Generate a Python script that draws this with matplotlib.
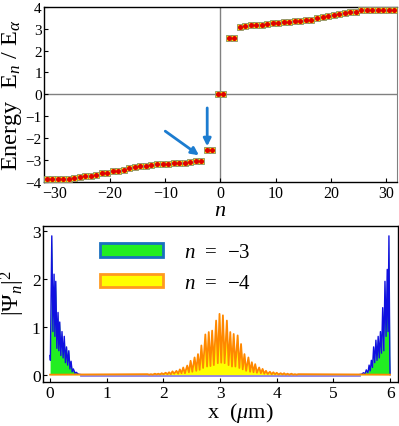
import numpy as np
import matplotlib
matplotlib.use('Agg')
import matplotlib.pyplot as plt

plt.rcParams['font.family'] = ['Liberation Serif', 'DejaVu Serif']
plt.rcParams['mathtext.fontset'] = 'custom'
plt.rcParams['mathtext.rm'] = 'Liberation Serif'
plt.rcParams['mathtext.it'] = 'Liberation Serif:italic'

# ---- data: energy spectrum (E_n / E_alpha) ----
n_index = np.arange(-31.5, 32.0, 1.0)
energy = [-3.84, -3.84, -3.84, -3.84, -3.84, -3.83, -3.78, -3.74, -3.72, -3.67,
          -3.61, -3.58, -3.52, -3.49, -3.44, -3.36, -3.33, -3.29, -3.27, -3.23,
          -3.20, -3.19, -3.17, -3.14, -3.12, -3.11, -3.09, -3.05, -3.04,
          -2.55, -2.55, 0.0, 0.0, 2.55, 2.55,
          3.07, 3.10, 3.16, 3.16, 3.17, 3.19, 3.25, 3.25, 3.29, 3.30,
          3.35, 3.35, 3.39, 3.41, 3.50, 3.53, 3.56, 3.61, 3.65, 3.72,
          3.76, 3.78, 3.84, 3.84, 3.84, 3.84, 3.84, 3.84, 3.87]

# ---- data: |psi|^2 for n = -3 (edge state) ----
x_m3 = [0.00, 0.005, 0.03, 0.05, 0.07, 0.085, 0.10, 0.12, 0.14, 0.155, 0.17, 0.19,
        0.21, 0.23, 0.25, 0.27, 0.29, 0.31, 0.33, 0.35, 0.37, 0.39, 0.41, 0.44,
        0.46, 0.50, 0.55,
        5.45, 5.50, 5.53, 5.56, 5.58, 5.61, 5.63, 5.65, 5.67, 5.69, 5.71, 5.73,
        5.75, 5.77, 5.79, 5.81, 5.83, 5.85, 5.87, 5.89, 5.91, 5.93, 5.95, 5.965,
        5.98, 5.995, 6.00]
psi_m3 = [0.40, 0.30, 2.90, 0.90, 2.10, 0.80, 1.95, 0.55, 1.30, 0.50, 1.10, 0.40,
          0.90, 0.35, 0.80, 0.25, 0.58, 0.20, 0.50, 0.12, 0.28, 0.06, 0.12, 0.03,
          0.05, 0.01, 0.00,
          0.00, 0.01, 0.04, 0.02, 0.10, 0.04, 0.20, 0.08, 0.30, 0.15, 0.58, 0.25,
          0.72, 0.30, 0.80, 0.35, 0.90, 0.45, 1.40, 0.50, 1.95, 0.80, 2.20, 0.90,
          2.90, 0.40, 0.00]

# ---- data: |psi|^2 for n = -4 (bulk state), peaks and troughs ----
peak_x = [1.72, 1.78, 1.85, 1.91, 1.97, 2.04, 2.10, 2.16, 2.23, 2.29, 2.35, 2.42,
          2.48, 2.55, 2.61, 2.67, 2.74, 2.80, 2.86, 2.93, 2.99, 3.05, 3.12, 3.18,
          3.24, 3.31, 3.37, 3.43, 3.50, 3.56, 3.62, 3.69, 3.75, 3.81, 3.88, 3.94,
          4.00, 4.07, 4.13, 4.19, 4.26, 4.32, 4.38]
peak_y = [0.01, 0.01, 0.02, 0.02, 0.03, 0.04, 0.05, 0.07, 0.08, 0.11, 0.15, 0.19,
          0.29, 0.36, 0.43, 0.61, 0.84, 0.89, 0.92, 1.13, 1.27, 1.24, 1.13, 0.89,
          0.85, 0.82, 0.64, 0.43, 0.36, 0.26, 0.22, 0.15, 0.12, 0.08, 0.06, 0.05,
          0.04, 0.03, 0.03, 0.02, 0.02, 0.01, 0.01]
trough_x = [1.75, 1.81, 1.88, 1.94, 2.00, 2.07, 2.13, 2.19, 2.26, 2.32, 2.38, 2.45,
            2.51, 2.58, 2.64, 2.70, 2.77, 2.83, 2.89, 2.96, 3.02, 3.08, 3.15, 3.21,
            3.27, 3.34, 3.40, 3.46, 3.53, 3.59, 3.65, 3.72, 3.78, 3.84, 3.91, 3.97,
            4.03, 4.10, 4.16, 4.22, 4.29, 4.35]
trough_y = [0.0, 0.0, 0.005, 0.005, 0.01, 0.01, 0.01, 0.02, 0.02, 0.03, 0.03, 0.05,
            0.06, 0.08, 0.10, 0.14, 0.17, 0.18, 0.20, 0.24, 0.25, 0.24, 0.20, 0.17,
            0.17, 0.14, 0.11, 0.08, 0.06, 0.05, 0.04, 0.03, 0.02, 0.015, 0.01, 0.01,
            0.005, 0.005, 0.0, 0.0, 0.0, 0.0]

x_m4 = [0.0]
psi_m4 = [0.0]
for i in range(len(peak_x)):
    x_m4.append(peak_x[i])
    psi_m4.append(peak_y[i])
    if i < len(trough_x):
        x_m4.append(trough_x[i])
        psi_m4.append(trough_y[i])
x_m4.append(6.0)
psi_m4.append(0.0)

fig = plt.figure(figsize=(3.99, 4.27), dpi=100)

# ---------------- top panel ----------------
ax1 = fig.add_axes([0.110, 0.5714, 0.885, 0.4106])
ax1.axhline(0, color='#808080', lw=1.0, zorder=1)
ax1.axvline(0, color='#808080', lw=1.0, zorder=1)
ax1.plot(n_index, energy, ls='none', marker='s', ms=5.0, mfc='#ffff00',
         mec='#8a8a6a', mew=0.6, zorder=3)
ax1.plot(n_index, energy, ls='none', marker='o', ms=2.6, mfc='#e00000',
         mec='#e00000', zorder=4)

arrow_col = '#1c7cd0'
ax1.annotate('', xy=(-3.9, -2.78), xytext=(-10.0, -1.68),
             arrowprops=dict(arrowstyle='-|>', color=arrow_col, lw=2.0,
                             mutation_scale=11, shrinkA=0, shrinkB=0))
ax1.annotate('', xy=(-2.4, -2.37), xytext=(-2.4, -0.62),
             arrowprops=dict(arrowstyle='-|>', color=arrow_col, lw=2.0,
                             mutation_scale=11, shrinkA=0, shrinkB=0))

ax1.set_xlim(-32, 32)
ax1.set_ylim(-4, 4)
ax1.set_xticks([-30, -20, -10, 0, 10, 20, 30])
ax1.set_yticks([-4, -3, -2, -1, 0, 1, 2, 3, 4])
ax1.tick_params(direction='in', labelsize=11.5, length=3, width=0.8, pad=2)
ax1.tick_params(axis='y', labelsize=11, pad=1.5)
for s in ['top', 'left', 'bottom']:
    ax1.spines[s].set_color('black')
    ax1.spines[s].set_linewidth(1.0)
ax1.spines['right'].set_color('#808080')
ax1.set_ylabel(r'Energy  E$_n$ / E$_\alpha$', fontsize=17.5)
ax1.yaxis.set_label_coords(-0.056, 0.5)
ax1.set_xlabel(r'$n$', fontsize=16, labelpad=0)

# ---------------- bottom panel ----------------
ax2 = fig.add_axes([0.1085, 0.1023, 0.889, 0.3654])
ax2.fill_between(x_m3, psi_m3, 0, color='#22ee22', lw=0, zorder=2)
ax2.plot(x_m3, psi_m3, color='#1010e0', lw=1.0, zorder=3)
ax2.plot([0.55, 5.45], [0, 0], color='#8c7ce8', lw=2.0, zorder=3)
ax2.fill_between(x_m4, psi_m4, 0, color='#ffff00', lw=0, zorder=4)
ax2.plot(x_m4, psi_m4, color='#ff8800', lw=1.3, zorder=5)

ax2.fill_between([], [], color='#22ee22', ec='#1a70c0', lw=2, label=r'$n$  =  $-$3')
ax2.fill_between([], [], color='#ffff00', ec='#ff9a20', lw=2, label=r'$n$  =  $-$4')
ax2.legend(loc='upper left', bbox_to_anchor=(0.16, 0.89), frameon=False,
           fontsize=15, handlelength=3.0, handleheight=0.6, handletextpad=1.05,
           labelspacing=0.55, borderpad=0, borderaxespad=0)

ax2.set_xlim(-0.12, 6.14)
ax2.set_ylim(-0.16, 3.1)
ax2.set_xticks([0, 1, 2, 3, 4, 5, 6])
ax2.set_yticks([0, 1, 2, 3])
ax2.tick_params(direction='in', labelsize=12.5, length=3, width=0.8, pad=2)
for s in ax2.spines.values():
    s.set_color('black')
    s.set_linewidth(1.0)
ax2.set_ylabel(r'$|\Psi_n|^2$', fontsize=17)
ax2.yaxis.set_label_coords(-0.045, 0.58)
ax2.set_xlabel(r'x  ($\mu$m)', fontsize=16)
ax2.xaxis.set_label_coords(0.555, -0.115)
ax2.xaxis.label.set_va('top')

fig.savefig('out.png', dpi=100)
